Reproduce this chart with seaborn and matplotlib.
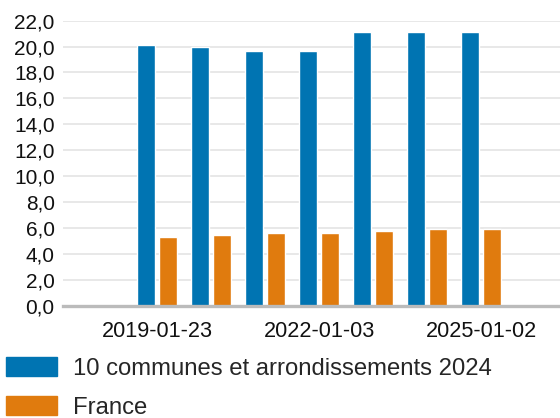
import numpy as np
import pandas as pd
import matplotlib
matplotlib.use('Agg')
import matplotlib.pyplot as plt
import matplotlib.patches as mpatches
from matplotlib.ticker import FuncFormatter, MultipleLocator
import seaborn as sns

sns.set_theme(style="white")
plt.rcParams['font.family'] = ['Liberation Sans', 'DejaVu Sans']

# ── Data ──────────────────────────────────────────────────
dates = ['2019-01-23', '2020-01-02', '2021-01-04', '2022-01-03',
         '2023-01-02', '2024-01-02', '2025-01-02']
shown_ticks = ['2019-01-23', '2022-01-03', '2025-01-02']
communes = [20.1, 19.95, 19.65, 19.65, 21.15, 21.15, 21.15]
france = [5.3, 5.45, 5.6, 5.6, 5.75, 5.9, 5.9]
series_names = ['10 communes et arrondissements 2024', 'France']
COLORS = {series_names[0]: '#0074b2', series_names[1]: '#e07b0e'}

df = pd.DataFrame({
    'date': dates * 2,
    'value': communes + france,
    'series': [series_names[0]] * len(dates) + [series_names[1]] * len(dates),
})

# ── Figure ────────────────────────────────────────────────
fig = plt.figure(figsize=(5.6, 4.18), dpi=100)
ax = fig.add_axes([0.1125, 0.2687, 0.8875, 0.682])

sns.barplot(data=df, x='date', y='value', hue='series', palette=COLORS,
            width=0.8, gap=0.17, saturation=1, legend=False, ax=ax,
            order=dates, hue_order=series_names)

ax.set_xlim(-1.74, 7.46)
ax.set_ylim(0, 22)
ax.yaxis.set_major_locator(MultipleLocator(2))
ax.yaxis.set_major_formatter(FuncFormatter(lambda v, p: f"{v:.1f}".replace('.', ',')))
ax.set_xticks([dates.index(d) for d in shown_ticks])
ax.set_xticklabels(shown_ticks)
ax.set_xlabel('')
ax.set_ylabel('')

ax.grid(axis='y', color='#e4e4e4', linewidth=1.2)
ax.set_axisbelow(True)
for s in ['top', 'right', 'left']:
    ax.spines[s].set_visible(False)
ax.spines['bottom'].set_color('#bbbbbb')
ax.spines['bottom'].set_linewidth(2.4)
ax.spines['bottom'].set_zorder(3)

ax.tick_params(axis='y', length=0, pad=6, labelsize=15, labelcolor='#111111')
ax.tick_params(axis='x', length=6, width=1, color='#dddddd', pad=5,
               labelsize=15.6, labelcolor='#111111')

handles = [mpatches.Patch(color=COLORS[n], label=n) for n in series_names]
fig.legend(handles=handles, loc='lower left', bbox_to_anchor=(-0.002, -0.02),
           frameon=False, fontsize=17.2, handlelength=2.15, handleheight=0.85,
           handletextpad=0.65, labelspacing=0.68, borderaxespad=0.2,
           borderpad=0.1)

fig.savefig('out.png', dpi=100)
